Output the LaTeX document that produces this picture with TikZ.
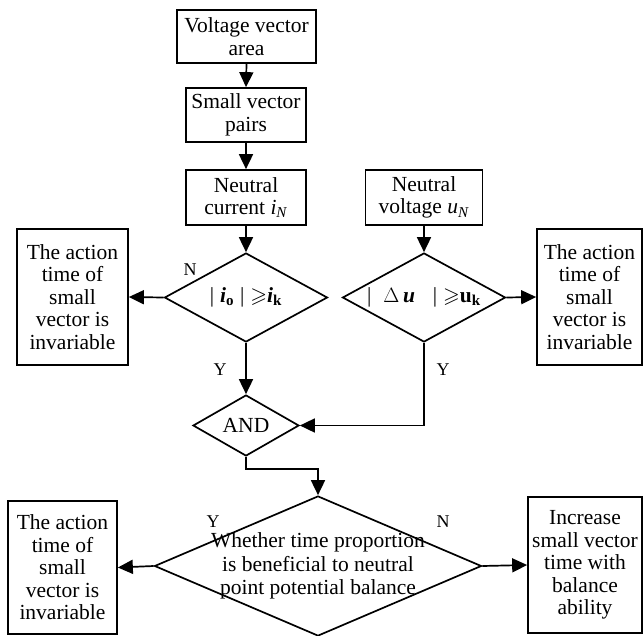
\documentclass[tikz,border=0pt]{standalone}
\usepackage{fontspec}
\usepackage{amssymb}
\setmainfont{Liberation Serif}
\usetikzlibrary{arrows.meta,shapes.geometric}
\begin{document}
\begin{tikzpicture}[x=1pt,y=-1pt,
  line width=1.7pt,
  arr/.style={-{Triangle[length=15pt,width=14pt]}},
  box/.style={draw,rectangle,inner sep=0pt,align=center,font=\fontsize{21.5}{22.5}\selectfont},
  dia/.style={draw,diamond,inner sep=0pt},
  lab/.style={font=\fontsize{18}{20}\selectfont,inner sep=0pt},
  dtext/.style={font=\fontsize{21.5}{23.5}\selectfont,align=center,inner sep=0pt}]
\useasboundingbox (0,0) rectangle (643,635);
\node[box,minimum width=139pt,minimum height=53pt] (b1) at (246.5,36.5) {Voltage vector\\area};
\node[box,minimum width=120pt,minimum height=54pt] (b2) at (246,115) {Small vector\\pairs};
\node[box,minimum width=120pt,minimum height=55pt] (b3) at (246,197.5) {Neutral\\current \textit{i}\textsubscript{\textit{N}}};
\node[box,minimum width=117pt,minimum height=55pt] (b4) at (424,197.5) {Neutral\\voltage \textit{u}\textsubscript{\textit{N}}};
\node[dia,minimum width=163pt,minimum height=89pt,label={[dtext]center:{|\;\textbf{\textit{i}}\textsubscript{\textbf{o}}\;|\;$\geqslant$\textbf{\textit{i}}\textsubscript{\textbf{k}}}}] (d1) at (246,297.5) {};
\node[dia,minimum width=163pt,minimum height=89pt,label={[dtext]center:{|\;\;$\Delta$\,\textbf{\textit{u}}\;\;\;|\;$\geqslant$\textbf{u}\textsubscript{\textbf{k}}}}] (d2) at (424,297.5) {};
\node[box,minimum width=111pt,minimum height=136pt] (l1) at (72.5,297) {The action\\time of\\small\\vector is\\invariable};
\node[box,minimum width=105pt,minimum height=136pt] (r1) at (589.5,297) {The action\\time of\\small\\vector is\\invariable};
\node[dia,minimum width=106pt,minimum height=61pt,label={[dtext]center:AND}] (and) at (246,425.5) {};
\node[dia,minimum width=327pt,minimum height=140pt,label={[dtext]center:{Whether time proportion\\is beneficial to neutral\\point potential balance}}] (big) at (318,566) {};
\node[box,minimum width=109pt,minimum height=133pt] (l2) at (62.5,567.5) {The action\\time of\\small\\vector is\\invariable};
\node[box,minimum width=114pt,minimum height=136pt] (r2) at (585,565) {Increase\\small vector\\time with\\balance\\ability};
\coordinate (m1) at (246,469);
\draw[arr] (b1.south) -- (b2.north);
\draw[arr] (b2.south) -- (b3.north);
\draw[arr] (b3.south) -- (d1.north);
\draw[arr] (b4.south) -- (d2.north);
\draw[arr] (d1.west) -- (l1.east);
\draw[arr] (d2.east) -- (r1.west);
\draw[arr] (d1.south) -- (and.north);
\draw[arr] (d2.south) |- (and.east);
\draw[arr] (and.south) -- (m1) -| (big.north);
\draw[arr] (big.west) -- (l2.east);
\draw[arr] (big.east) -- (r2.west);
\node[lab] (n1) at (190,270) {N};
\node[lab] (y1) at (220,370) {Y};
\node[lab] (y2) at (443,370) {Y};
\node[lab] (y3) at (213,522) {Y};
\node[lab] (n2) at (443,522) {N};
\end{tikzpicture}
\end{document}
